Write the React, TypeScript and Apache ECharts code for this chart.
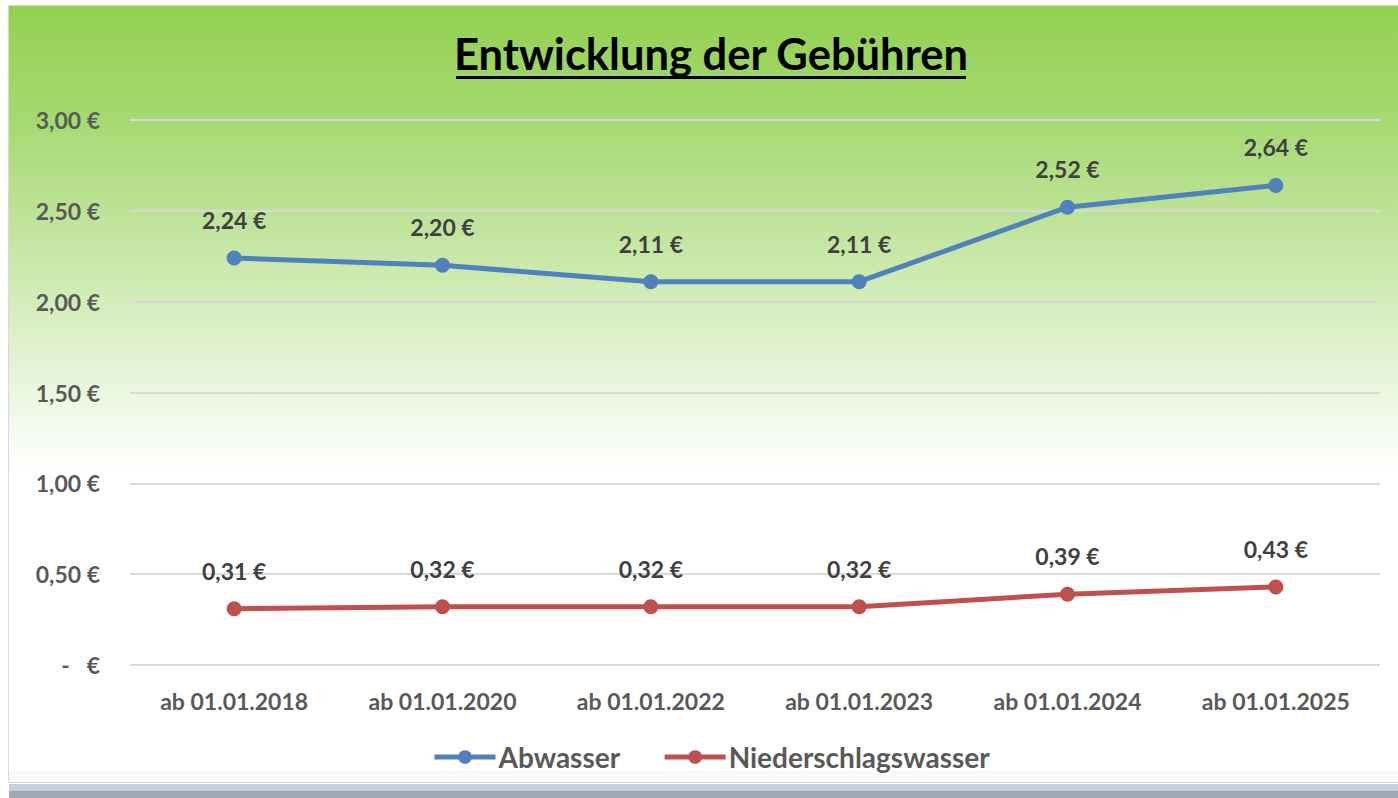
import React, { useEffect, useRef } from "react";
import * as echarts from "echarts";

const categories = [
  "ab 01.01.2018",
  "ab 01.01.2020",
  "ab 01.01.2022",
  "ab 01.01.2023",
  "ab 01.01.2024",
  "ab 01.01.2025",
];
const abwasser = [2.24, 2.2, 2.11, 2.11, 2.52, 2.64];
const niederschlagswasser = [0.31, 0.32, 0.32, 0.32, 0.39, 0.43];
const seriesNames = ["Abwasser", "Niederschlagswasser"];
const titleText = "Entwicklung der Gebühren";

const FONT = "Lato";
const euro = (v: number) =>
  v === 0 ? "-   €" : v.toFixed(2).replace(".", ",") + " €";

export default function App() {
  const ref = useRef<HTMLDivElement>(null);
  useEffect(() => {
    document.body.style.margin = "0";
    const chart = echarts.init(ref.current!, null, { renderer: "svg" });
    const labelStyle = {
      show: true,
      position: "top" as const,
      distance: 19,
      fontFamily: FONT,
      fontWeight: "bold" as const,
      fontSize: 23,
      color: "#404040",
      formatter: (p: any) => euro(p.value),
    };
    chart.setOption({
      animation: false,
      graphic: [
        {
          type: "rect",
          z: -10,
          silent: true,
          shape: { x: 8.5, y: 5.5, width: 1400, height: 777 },
          style: {
            fill: new echarts.graphic.LinearGradient(0, 0, 0, 1, [
              { offset: 0, color: "#92D050" },
              { offset: 0.15, color: "#A6D972" },
              { offset: 0.6, color: "#FFFFFF" },
              { offset: 1, color: "#FFFFFF" },
            ]),
            stroke: "#D9D9D9",
            lineWidth: 1,
          },
        },
        {
          type: "rect",
          z: -9,
          silent: true,
          shape: { x: 9, y: 770, width: 1389, height: 12 },
          style: { fill: "#F8F9FA" },
        },
        {
          type: "rect",
          z: -9,
          silent: true,
          shape: { x: 9, y: 784, width: 1389, height: 7 },
          style: { fill: "#C8D0D9" },
        },
        {
          type: "rect",
          z: -9,
          silent: true,
          shape: { x: 9, y: 791, width: 1389, height: 7 },
          style: { fill: "#9EAAB6" },
        },
        {
          type: "text",
          x: 711,
          y: 31,
          style: {
            text: titleText,
            font: `bold 43.5px ${FONT}`,
            fill: "#000000",
            textAlign: "center",
            textVerticalAlign: "top",
          },
        },
        {
          type: "rect",
          silent: true,
          shape: { x: 456, y: 76, width: 510, height: 3 },
          style: { fill: "#000000" },
        },
      ],
      grid: { left: 130, right: 18, top: 120, bottom: 133 },
      legend: {
        bottom: 22,
        left: 427,
        itemWidth: 61,
        itemHeight: 17,
        itemGap: 42,
        data: seriesNames,
        lineStyle: { width: 5 },
        textStyle: {
          fontFamily: FONT,
          fontWeight: "bold",
          fontSize: 28,
          color: "#595959",
          padding: [0, 0, 0, -2],
        },
      },
      xAxis: {
        type: "category",
        data: categories,
        boundaryGap: true,
        axisLine: { show: false },
        axisTick: { show: false },
        axisLabel: {
          margin: 24,
          fontFamily: FONT,
          fontWeight: "bold",
          fontSize: 23,
          color: "#595959",
        },
      },
      yAxis: {
        type: "value",
        min: 0,
        max: 3,
        interval: 0.5,
        axisLine: { show: false },
        axisTick: { show: false },
        splitLine: { lineStyle: { color: "#D9D9D9", width: 2 } },
        axisLabel: {
          margin: 30,
          fontFamily: FONT,
          fontWeight: "bold",
          fontSize: 23,
          color: "#595959",
          formatter: (v: number) => euro(v),
        },
      },
      series: [
        {
          name: seriesNames[0],
          type: "line",
          data: abwasser,
          symbol: "circle",
          symbolSize: 15,
          color: "#4F81BD",
          lineStyle: { width: 5, color: "#4F81BD" },
          itemStyle: { color: "#4F81BD" },
          label: labelStyle,
        },
        {
          name: seriesNames[1],
          type: "line",
          data: niederschlagswasser,
          symbol: "circle",
          symbolSize: 15,
          color: "#C0504D",
          lineStyle: { width: 5, color: "#C0504D" },
          itemStyle: { color: "#C0504D" },
          label: labelStyle,
        },
      ],
    });
    return () => chart.dispose();
  }, []);
  return <div ref={ref} style={{ width: 1398, height: 798 }} />;
}
